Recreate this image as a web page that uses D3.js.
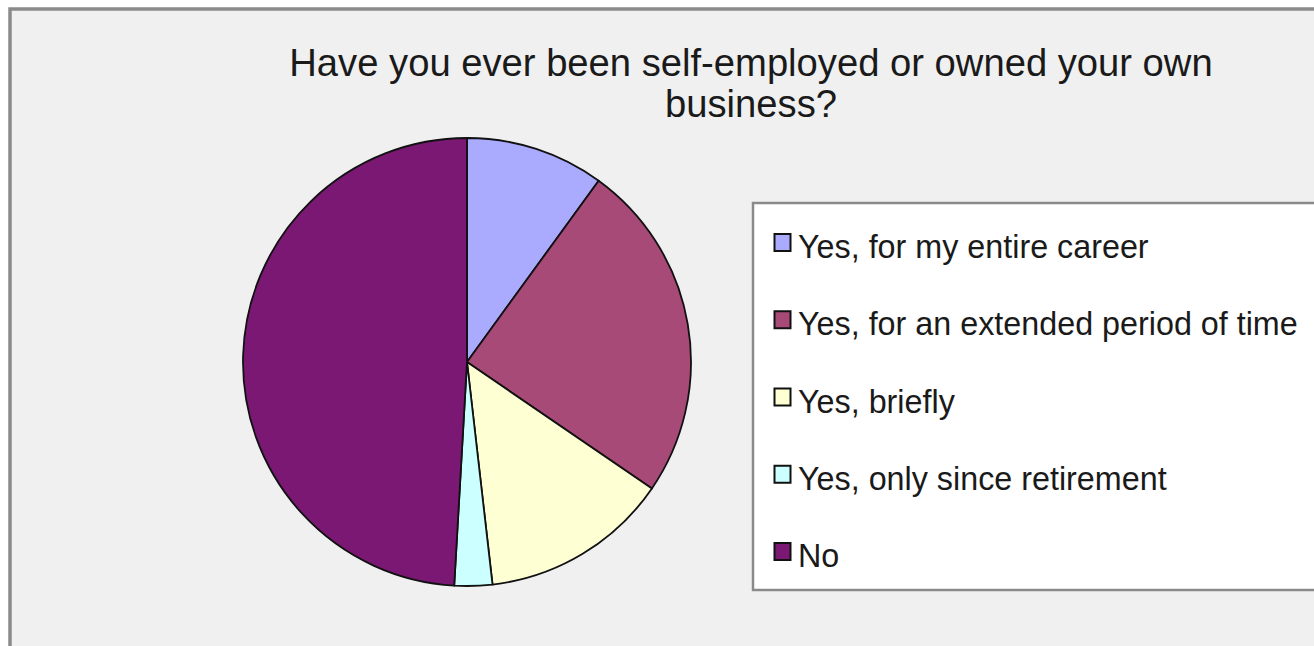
<!DOCTYPE html>
<html>
<head>
<meta charset="utf-8">
<script src="https://cdn.jsdelivr.net/npm/d3@7"></script>
<style>
  html, body { margin: 0; padding: 0; background: #ffffff; }
  svg { display: block; }
  text { font-family: "Liberation Sans", Arial, sans-serif; fill: #1a1a1a; }
</style>
</head>
<body>
<script>
const categories = [
  "Yes, for my entire career",
  "Yes, for an extended period of time",
  "Yes, briefly",
  "Yes, only since retirement",
  "No"
];
const values = [11, 27, 15, 3, 54];
const colors = ["#aaaaff", "#a84a78", "#ffffd4", "#ccffff", "#7a1874"];
const titleLines = ["Have you ever been self-employed or owned your own", "business?"];

const W = 1314, H = 646;
const svg = d3.select("body").append("svg").attr("width", W).attr("height", H);

// chart frame
svg.append("rect").attr("x", 10).attr("y", 9).attr("width", W + 20).attr("height", H + 20)
  .attr("fill", "#f0f0f0").attr("stroke", "#8a8a8a").attr("stroke-width", 3.5);

// title
const title = svg.append("text").attr("text-anchor", "middle").style("font-size", "38.2px");
titleLines.forEach((t, i) => {
  title.append("tspan").attr("x", 751).attr("y", 76 + i * 41).text(t);
});

// pie
const cx = 467, cy = 362, r = 224;
const pie = d3.pie().sort(null).value(d => d);
const arc = d3.arc().innerRadius(0).outerRadius(r);
const color = d3.scaleOrdinal().domain(categories).range(colors);
const g = svg.append("g").attr("transform", `translate(${cx},${cy})`);
g.selectAll("path").data(pie(values)).join("path")
  .attr("d", arc)
  .attr("fill", (d, i) => color(categories[i]))
  .attr("stroke", "#111")
  .attr("stroke-width", 1.8)
  .attr("stroke-linejoin", "round");

// legend
const lx = 753, ly = 203;
svg.append("rect").attr("x", lx).attr("y", ly).attr("width", W).attr("height", 387)
  .attr("fill", "#ffffff").attr("stroke", "#8a8a8a").attr("stroke-width", 2.5);

const y = d3.scalePoint().domain(categories).range([258, 567]);
const items = svg.append("g").selectAll("g").data(categories).join("g")
  .attr("transform", d => `translate(0,${y(d)})`);
items.append("rect")
  .attr("x", 774.5).attr("y", -24).attr("width", 16).attr("height", 17)
  .attr("fill", d => color(d)).attr("stroke", "#111").attr("stroke-width", 2);
items.append("text")
  .attr("x", 798).attr("y", 0)
  .style("font-size", "32.3px")
  .text(d => d);
</script>
</body>
</html>
